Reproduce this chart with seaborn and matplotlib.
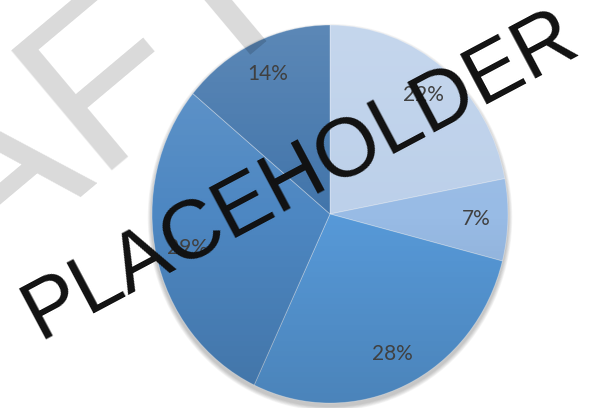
import numpy as np
import matplotlib
matplotlib.use("Agg")
import matplotlib.pyplot as plt
from matplotlib.patches import Circle
import seaborn as sns

# slice shares, clockwise from 12 o'clock
shares = [22, 7, 28, 29, 14]
slice_colors = ["#bcd0ea", "#98bbe5", "#5799d8", "#4d87c2", "#4275ab"]
watermark_back = "DRAFT"
watermark_front = "PLACEHOLDER"

sns.set_theme(style="white")
plt.rcParams["font.family"] = ["Lato", "DejaVu Sans"]

fig = plt.figure(figsize=(5.92, 4.08), dpi=100)
# pie is drawn a bit taller than wide, like the reference
cx, cy, rx, ry = 330, 214, 178, 189
ax = fig.add_axes([(cx - rx) / 592, (408 - cy - ry) / 408, 2 * rx / 592, 2 * ry / 408])

palette = sns.color_palette(slice_colors)

# soft drop shadow under the pie, mostly below it
for k in range(6):
    ax.add_patch(Circle((0.0, -0.018), 1.0 + 0.004 * (k + 1), color="black",
                        alpha=0.04, lw=0, zorder=0, clip_on=False))

wedges, texts, autotexts = ax.pie(
    shares, colors=palette, startangle=90, counterclock=False,
    autopct="%1.0f%%", pctdistance=0.82,
    wedgeprops=dict(edgecolor=(1, 1, 1, 0.35), linewidth=0.6),
    textprops=dict(color="#404040", fontsize=15),
)
for w in wedges:
    w.set_zorder(1)
for t in autotexts:
    t.set_zorder(4)

ax.set_aspect("auto")
ax.axis("off")

# vertical shading: lighter on top, darker at the bottom
grad = np.linspace(0, 1, 256).reshape(-1, 1)
shade = np.zeros((256, 1, 4))
shade[..., :3] = np.where(grad[..., None] < 0.5, 1.0, 0.0)
shade[..., 3] = np.abs(grad - 0.5) * 0.28
im = ax.imshow(shade, extent=[-1, 1, -1, 1], origin="upper", aspect="auto",
               zorder=2, interpolation="bilinear")
im.set_clip_path(Circle((0, 0), 1.0, transform=ax.transData))
ax.set_xlim(-1, 1)
ax.set_ylim(-1, 1)

# watermarks
fig.text(0.027, 0.421, watermark_back, fontsize=165, color="black", alpha=0.15,
         rotation=40, ha="center", va="baseline", rotation_mode="anchor",
         family=["Liberation Sans"], zorder=5)
fig.text(0.524, 0.522, watermark_front, fontsize=59.5, color="#111111",
         rotation=28, ha="center", va="baseline", rotation_mode="anchor",
         family=["Liberation Sans"], zorder=6)

fig.savefig("out.png", dpi=100)
